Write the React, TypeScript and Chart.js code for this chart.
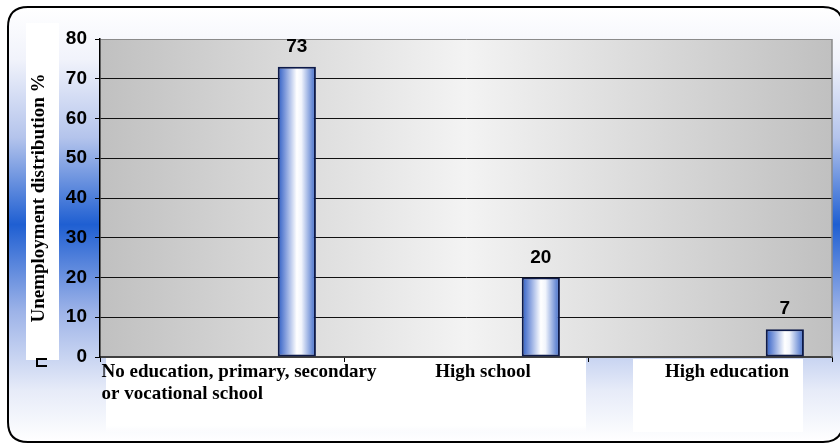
import React, { useEffect, useRef } from "react";
import { Chart, registerables } from "chart.js";

Chart.register(...registerables);

// ---- data ----
const categories: (string | string[])[] = [
  ["No education, primary, secondary", "or vocational school"],
  "High school",
  "High education",
];
const emptySeriesA: (number | null)[] = [null, null, null];
const emptySeriesB: (number | null)[] = [null, null, null];
const unemploymentShare: number[] = [73, 20, 7];
const yMin = 0;
const yMax = 80;
const yStep = 10;
const yTitle = "Unemployment distribution %";

const SERIF = "'Liberation Serif', 'Times New Roman', serif";
const SANS = "'Liberation Sans', Arial, sans-serif";

function roundRect(ctx: CanvasRenderingContext2D, x: number, y: number, w: number, h: number, r: number) {
  ctx.beginPath();
  ctx.moveTo(x + r, y);
  ctx.lineTo(x + w - r, y);
  ctx.quadraticCurveTo(x + w, y, x + w, y + r);
  ctx.lineTo(x + w, y + h - r);
  ctx.quadraticCurveTo(x + w, y + h, x + w - r, y + h);
  ctx.lineTo(x + r, y + h);
  ctx.quadraticCurveTo(x, y + h, x, y + h - r);
  ctx.lineTo(x, y + r);
  ctx.quadraticCurveTo(x, y, x + r, y);
  ctx.closePath();
}

const decorPlugin = {
  id: "decor",
  beforeDraw(chart: any) {
    const ctx: CanvasRenderingContext2D = chart.ctx;
    const { left, right, top, bottom } = chart.chartArea;
    const H = chart.height;
    ctx.save();
    // outer frame with vertical gradient
    const fx = 8, fy = 7, fw = chart.width + 3 - fx, fh = H - 3 - fy;
    const g = ctx.createLinearGradient(0, fy, 0, fy + fh);
    g.addColorStop(0, "#ffffff");
    g.addColorStop(0.12, "#f1f3fb");
    g.addColorStop(0.3, "#b4c4ec");
    g.addColorStop(0.5, "#1f5fd2");
    g.addColorStop(0.7, "#9db3e8");
    g.addColorStop(0.88, "#e6ebf8");
    g.addColorStop(1, "#ffffff");
    roundRect(ctx, fx, fy, fw, fh, 20);
    ctx.fillStyle = g;
    ctx.fill();
    ctx.lineWidth = 2;
    ctx.strokeStyle = "#000";
    ctx.stroke();

    // white box behind the y title
    ctx.fillStyle = "#ffffff";
    ctx.fillRect(26, 23, 33, bottom + 3 - 23);

    // small clipped legend marker
    ctx.strokeStyle = "#000";
    ctx.lineWidth = 2;
    ctx.beginPath();
    ctx.moveTo(47, bottom + 2);
    ctx.lineTo(37, bottom + 2);
    ctx.lineTo(37, bottom + 9);
    ctx.lineTo(47, bottom + 9);
    ctx.stroke();

    // plot area gradient
    const pg = ctx.createLinearGradient(left, 0, right, 0);
    pg.addColorStop(0, "#c0c0c0");
    pg.addColorStop(0.5, "#f3f3f3");
    pg.addColorStop(1, "#c0c0c0");
    ctx.fillStyle = pg;
    ctx.fillRect(left, top, right - left, bottom - top);

    // white boxes behind the category labels
    const xs = chart.scales.x;
    const catW = (right - left) / categories.length;
    const c0 = xs.getPixelForValue(0) - catW / 2;
    const c1 = xs.getPixelForValue(1) + catW / 2;
    const c2 = xs.getPixelForValue(2) - catW / 2;
    ctx.fillStyle = "#ffffff";
    ctx.fillRect(c0 + 6, bottom + 1, c1 - 2 - (c0 + 6), 68);
    ctx.fillRect(c2 + 45, bottom + 2, catW - 74, 73);
    const wf = ctx.createLinearGradient(0, bottom + 69, 0, bottom + 76);
    wf.addColorStop(0, "rgba(255,255,255,1)");
    wf.addColorStop(1, "rgba(255,255,255,0)");
    ctx.fillStyle = wf;
    ctx.fillRect(c0 + 6, bottom + 69, c1 - 2 - (c0 + 6), 7);
    ctx.restore();
  },
  beforeDatasetsDraw(chart: any) {
    const ctx: CanvasRenderingContext2D = chart.ctx;
    const { right, top, bottom } = chart.chartArea;
    ctx.save();
    ctx.strokeStyle = "#8a8a8a";
    ctx.lineWidth = 1.5;
    ctx.beginPath();
    ctx.moveTo(right, top);
    ctx.lineTo(right, bottom);
    ctx.stroke();
    ctx.restore();
    chart.data.datasets.forEach((_: any, di: number) => {
      const meta = chart.getDatasetMeta(di);
      meta.data.forEach((el: any) => {
        if (!el || el.width == null || isNaN(el.x)) return;
        const x0 = el.x - el.width / 2;
        const x1 = el.x + el.width / 2;
        const bg = ctx.createLinearGradient(x0, 0, x1, 0);
        bg.addColorStop(0, "#2c5cc4");
        bg.addColorStop(0.18, "#7895da");
        bg.addColorStop(0.5, "#ffffff");
        bg.addColorStop(0.62, "#f2f5fc");
        bg.addColorStop(1, "#3c68c8");
        if (el.options) el.options.backgroundColor = bg;
      });
    });
  },
  afterDatasetsDraw(chart: any) {
    const ctx: CanvasRenderingContext2D = chart.ctx;
    const meta = chart.getDatasetMeta(2);
    ctx.save();
    ctx.font = `bold 19px ${SANS}`;
    ctx.fillStyle = "#000";
    ctx.textAlign = "center";
    ctx.textBaseline = "alphabetic";
    meta.data.forEach((el: any, i: number) => {
      ctx.fillText(String(unemploymentShare[i]), el.x, el.y - 15);
    });

    // category labels: block centred on the category, lines left-aligned
    const xs = chart.scales.x;
    const bottom = chart.chartArea.bottom;
    ctx.font = `bold 19px ${SERIF}`;
    ctx.textAlign = "left";
    ctx.textBaseline = "alphabetic";
    categories.forEach((lab, i) => {
      const lines = Array.isArray(lab) ? lab : [lab];
      const w = Math.max(...lines.map((l) => ctx.measureText(l).width));
      const cx = xs.getPixelForValue(i) + 17;
      lines.forEach((l, k) => {
        ctx.fillText(l, cx - w / 2, bottom + 20 + k * 22);
      });
    });
    ctx.restore();
  },
};

export default function App() {
  const ref = useRef<HTMLCanvasElement | null>(null);
  useEffect(() => {
    document.body.style.margin = "0";
    if (!ref.current) return;
    const barStyle = {
      backgroundColor: () => "#4a78d0",
      borderColor: "#0d1a4a",
      borderWidth: 2,
      borderSkipped: false as const,
      categoryPercentage: 0.92,
      barPercentage: 0.51,
    };
    const chart = new Chart(ref.current, {
      type: "bar",
      data: {
        labels: categories,
        datasets: [
          { label: "", data: emptySeriesA, ...barStyle },
          { label: "", data: emptySeriesB, ...barStyle },
          { label: "Unemployment distribution %", data: unemploymentShare, ...barStyle },
        ],
      },
      options: {
        animation: false,
        responsive: false,
        maintainAspectRatio: false,
        layout: { padding: { top: 39, right: 8, left: 0, bottom: 0 } },
        plugins: {
          legend: { display: false },
          tooltip: { enabled: false },
        },
        scales: {
          x: {
            offset: true,
            grid: {
              display: true,
              drawOnChartArea: false,
              drawTicks: true,
              tickLength: 5,
              color: "#000",
              offset: true,
            },
            border: { display: true, color: "#404040", width: 2 },
            ticks: {
              color: "rgba(0,0,0,0)",
              font: { family: SERIF, size: 12, weight: "bold" },
              padding: 0,
              maxRotation: 0,
              minRotation: 0,
              autoSkip: false,
            },
            afterFit: (s: any) => {
              s.height = 88;
            },
          },
          y: {
            min: yMin,
            max: yMax,
            ticks: {
              stepSize: yStep,
              color: "#000",
              font: { family: SANS, size: 19, weight: "bold" },
              padding: 8,
            },
            grid: {
              color: (c: any) => (c.tick && c.tick.value === yMax ? "#8a8a8a" : "#111111"),
              tickColor: "#000",
              tickLength: 5,
              lineWidth: 1,
            },
            border: { display: true, color: "#000", width: 1.5 },
            title: {
              display: true,
              text: yTitle,
              color: "#000",
              font: { family: SERIF, size: 19, weight: "bold" },
              padding: { top: 28, bottom: 0 },
            },
            afterFit: (s: any) => {
              s.width = 100;
            },
          },
        },
      },
      plugins: [decorPlugin],
    });
    return () => chart.destroy();
  }, []);
  return (
    <div style={{ position: "fixed", left: 0, top: 0, width: 840, height: 445 }}>
      <canvas ref={ref} width={840} height={445} style={{ width: 840, height: 445, display: "block" }} />
    </div>
  );
}
